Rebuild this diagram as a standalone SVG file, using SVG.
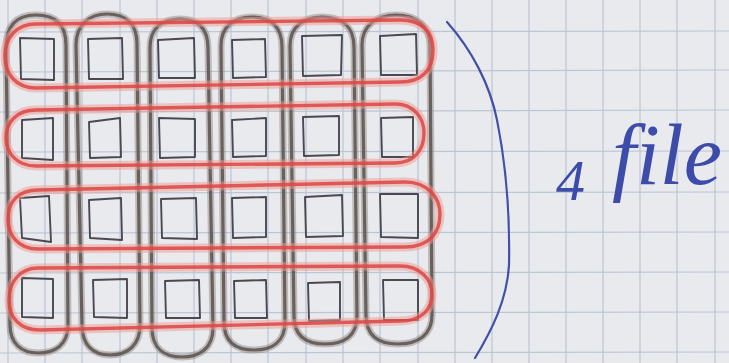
<svg xmlns="http://www.w3.org/2000/svg" width="729" height="363" viewBox="0 0 729 363">
<defs>
<style>
.grid line{stroke:#bcc5d4;stroke-width:1.2}
.sq{fill:none;stroke:#4b4852;stroke-width:1.9;stroke-linejoin:round}
.gh{fill:none;stroke:#8b827d;stroke-width:7;opacity:.45}
.g{fill:none;stroke:#5d5450;stroke-width:3.2;opacity:.88}
.rh{fill:none;stroke:#f09a94;stroke-width:9;opacity:.5}
.r{fill:none;stroke:#dc4542;stroke-width:3.4;opacity:.85}
.blue{fill:none;stroke:#4250a8;stroke-width:2.2;stroke-linecap:round}
.lbl{font-family:"Liberation Serif","DejaVu Serif",serif;font-style:italic;fill:#3d4ca8}
</style>
</defs>
<rect width="729" height="363" fill="#e9eaee"/>
<g class="grid">
<line x1="8" y1="0" x2="8" y2="363"/><line x1="45" y1="0" x2="45" y2="363"/><line x1="82" y1="0" x2="82" y2="363"/><line x1="120" y1="0" x2="120" y2="363"/><line x1="157" y1="0" x2="157" y2="363"/><line x1="194" y1="0" x2="194" y2="363"/><line x1="231" y1="0" x2="231" y2="363"/><line x1="268" y1="0" x2="268" y2="363"/><line x1="306" y1="0" x2="306" y2="363"/><line x1="343" y1="0" x2="343" y2="363"/><line x1="380" y1="0" x2="380" y2="363"/><line x1="418" y1="0" x2="418" y2="363"/><line x1="455" y1="0" x2="455" y2="363"/><line x1="492" y1="0" x2="492" y2="363"/><line x1="529" y1="0" x2="529" y2="363"/><line x1="566" y1="0" x2="566" y2="363"/><line x1="603" y1="0" x2="603" y2="363"/><line x1="640" y1="0" x2="640" y2="363"/><line x1="677" y1="0" x2="677" y2="363"/><line x1="715" y1="0" x2="715" y2="363"/>
<line x1="0" y1="32" x2="729" y2="31"/><line x1="0" y1="72" x2="729" y2="70"/><line x1="0" y1="112" x2="729" y2="110"/><line x1="0" y1="152" x2="729" y2="151"/><line x1="0" y1="193" x2="729" y2="192"/><line x1="0" y1="233" x2="729" y2="232"/><line x1="0" y1="273" x2="729" y2="272"/><line x1="0" y1="313" x2="729" y2="312"/><line x1="0" y1="353" x2="729" y2="352"/>
</g>
<g id="squares">
<path class="sq" d="M20 38 L54 39 L54 80 L21 79 Z"/>
<path class="sq" d="M88 39 L122 38 L123 79 L89 79 Z"/>
<path class="sq" d="M158 40 L194 38 L195 78 L159 78 Z"/>
<path class="sq" d="M232 40 L265 39 L266 77 L233 78 Z"/>
<path class="sq" d="M302 36 L342 35 L341 75 L303 76 Z"/>
<path class="sq" d="M380 36 L416 34 L417 75 L381 75 Z"/>
<path class="sq" d="M22 120 L53 118 L53 160 L22 158 Z"/>
<path class="sq" d="M89 122 L120 118 L121 157 L90 158 Z"/>
<path class="sq" d="M159 118 L195 119 L195 157 L160 158 Z"/>
<path class="sq" d="M232 120 L266 118 L266 156 L233 157 Z"/>
<path class="sq" d="M303 117 L339 116 L339 155 L304 156 Z"/>
<path class="sq" d="M381 118 L413 117 L413 157 L382 157 Z"/>
<path class="sq" d="M20 198 L49 196 L51 242 L22 238 Z"/>
<path class="sq" d="M89 200 L121 198 L122 240 L90 238 Z"/>
<path class="sq" d="M161 199 L196 198 L197 239 L162 238 Z"/>
<path class="sq" d="M232 198 L266 197 L266 237 L233 238 Z"/>
<path class="sq" d="M305 197 L342 195 L343 236 L306 237 Z"/>
<path class="sq" d="M380 194 L418 194 L418 238 L381 237 Z"/>
<path class="sq" d="M22 278 L53 279 L53 318 L22 317 Z"/>
<path class="sq" d="M93 280 L127 279 L127 318 L94 317 Z"/>
<path class="sq" d="M165 281 L199 280 L200 318 L166 318 Z"/>
<path class="sq" d="M234 281 L266 280 L267 318 L235 318 Z"/>
<path class="sq" d="M308 283 L340 282 L340 320 L309 321 Z"/>
<path class="sq" d="M383 280 L418 280 L418 320 L384 320 Z"/>
</g>
<g id="columns">
<g id="col1"><path class="gh" d="M6 48 C6 22 20 15 36 15 C55 15 66 24 66 45 L68 325 C68 345 55 353 38 353 C22 353 10 344 10 325 Z"/><path class="g" d="M6 48 C6 22 20 15 36 15 C55 15 66 24 66 45 L68 325 C68 345 55 353 38 353 C22 353 10 344 10 325 Z"/></g>
<g id="col2"><path class="gh" d="M76 45 C76 24 90 14 107 14 C126 14 137 24 137 44 L140 325 C140 345 128 355 110 355 C92 355 82 344 82 325 Z"/><path class="g" d="M76 45 C76 24 90 14 107 14 C126 14 137 24 137 44 L140 325 C140 345 128 355 110 355 C92 355 82 344 82 325 Z"/></g>
<g id="col3"><path class="gh" d="M150 48 C150 28 162 19 180 19 C198 19 208 28 208 48 L213 328 C213 348 200 357 182 357 C164 357 152 348 152 328 Z"/><path class="g" d="M150 48 C150 28 162 19 180 19 C198 19 208 28 208 48 L213 328 C213 348 200 357 182 357 C164 357 152 348 152 328 Z"/></g>
<g id="col4"><path class="gh" d="M221 46 C221 26 234 17 252 17 C271 17 282 27 282 47 L285 322 C285 342 272 350 254 350 C236 350 224 342 224 322 Z"/><path class="g" d="M221 46 C221 26 234 17 252 17 C271 17 282 27 282 47 L285 322 C285 342 272 350 254 350 C236 350 224 342 224 322 Z"/></g>
<g id="col5"><path class="gh" d="M290 46 C290 26 304 17 322 17 C342 17 354 27 354 47 L357 316 C357 336 344 344 325 344 C306 344 294 336 294 316 Z"/><path class="g" d="M290 46 C290 26 304 17 322 17 C342 17 354 27 354 47 L357 316 C357 336 344 344 325 344 C306 344 294 336 294 316 Z"/></g>
<g id="col6"><path class="gh" d="M362 45 C362 25 377 15 396 15 C417 15 430 26 430 46 L432 315 C432 335 418 344 398 344 C378 344 366 335 366 315 Z"/><path class="g" d="M362 45 C362 25 377 15 396 15 C417 15 430 26 430 46 L432 315 C432 335 418 344 398 344 C378 344 366 335 366 315 Z"/></g>
</g>
<g id="rows">
<g id="row1"><path class="rh" d="M36 24 L400 20 C422 20 433 32 433 50 C433 70 422 82 400 82 L36 88 C16 88 5 74 5 56 C5 38 16 24 36 24 Z"/><path class="r" d="M36 24 L400 20 C422 20 433 32 433 50 C433 70 422 82 400 82 L36 88 C16 88 5 74 5 56 C5 38 16 24 36 24 Z"/></g>
<g id="row2"><path class="rh" d="M36 110 L395 104 C414 104 424 118 424 133 C424 150 414 163 395 163 L36 166 C17 166 6 153 6 138 C6 122 17 110 36 110 Z"/><path class="r" d="M36 110 L395 104 C414 104 424 118 424 133 C424 150 414 163 395 163 L36 166 C17 166 6 153 6 138 C6 122 17 110 36 110 Z"/></g>
<g id="row3"><path class="rh" d="M38 190 L405 182 C428 182 440 198 440 214 C440 234 428 247 405 247 L38 249 C18 249 8 235 8 219 C8 202 18 190 38 190 Z"/><path class="r" d="M38 190 L405 182 C428 182 440 198 440 214 C440 234 428 247 405 247 L38 249 C18 249 8 235 8 219 C8 202 18 190 38 190 Z"/></g>
<g id="row4"><path class="rh" d="M38 268 L400 266 C421 266 432 280 432 294 C432 310 421 321 400 321 L40 330 C20 330 9 318 9 300 C9 282 20 268 38 268 Z"/><path class="r" d="M38 268 L400 266 C421 266 432 280 432 294 C432 310 421 321 400 321 L40 330 C20 330 9 318 9 300 C9 282 20 268 38 268 Z"/></g>
</g>
<g id="bracket">
<path class="blue" d="M447 22 C472 50 490 85 497 120 C506 165 510 215 509 265 C507 300 492 330 475 358"/>
</g>
<g id="label">
<text class="lbl" x="556" y="200" font-size="58">4</text>
<text class="lbl" x="612" y="184" font-size="86">file</text>
</g>
</svg>
